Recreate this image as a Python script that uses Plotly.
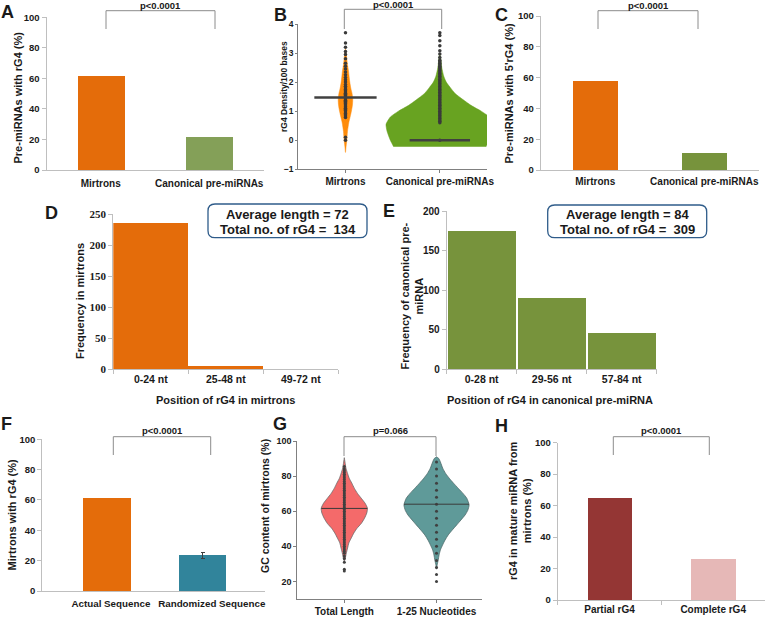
import plotly.graph_objects as go

W, H = 767, 620
FONT = "Liberation Sans, Arial, sans-serif"
SERIF = "Liberation Serif, Times New Roman, serif"
TXT = "#1a1a1a"

# ---------------- data ----------------
a_categories = ["Mirtrons", "Canonical pre-miRNAs"]
a_values = [61.1, 21.6]
a_pvalue = "p<0.0001"

b_categories = ["Mirtrons", "Canonical pre-miRNAs"]
b_medians = [1.47, 0.0]
b_mirtron_y = [-0.42, -0.2, 0.0, 0.3, 0.6, 0.8, 1.0, 1.2, 1.4, 1.6, 1.8, 2.0, 2.2, 2.4, 2.6, 2.8, 3.0, 3.15]
b_mirtron_density = [0.0, 0.012, 0.025, 0.037, 0.061, 0.086, 0.11, 0.129, 0.135, 0.123, 0.098, 0.08, 0.067, 0.055, 0.037, 0.025, 0.012, 0.0]
b_canonical_y = [-0.22, 0.0, 0.3, 0.55, 0.8, 1.0, 1.2, 1.4, 1.6, 1.8, 2.0, 2.2, 2.5, 2.8, 3.0]
b_canonical_density = [0.86, 0.92, 0.98, 1.0, 0.92, 0.77, 0.58, 0.43, 0.29, 0.2, 0.12, 0.074, 0.037, 0.018, 0.0]
b_mirtron_points = [0.0, 0.1, 0.78, 0.83, 0.88, 0.92, 0.97, 1.02, 1.06, 1.1, 1.14, 1.18, 1.22, 1.26,
                    1.3, 1.34, 1.38, 1.42, 1.46, 1.5, 1.54, 1.58, 1.62, 1.66, 1.7, 1.75, 1.8, 1.86,
                    1.92, 2.0, 2.08, 2.16, 2.25, 2.35, 2.45, 2.55, 2.65, 2.8, 2.95, 3.05, 3.2, 3.35, 3.7]
b_canonical_points = [0.0, 0.6, 0.65, 0.7, 0.75, 0.8, 0.85, 0.9, 0.95, 1.0, 1.05, 1.1, 1.15, 1.2, 1.25,
                      1.3, 1.35, 1.4, 1.45, 1.5, 1.55, 1.6, 1.65, 1.7, 1.75, 1.8, 1.85, 1.9, 1.95, 2.0,
                      2.05, 2.1, 2.15, 2.2, 2.25, 2.3, 2.35, 2.4, 2.45, 2.5, 2.55, 2.6, 2.65, 2.7, 2.75,
                      2.85, 2.97, 3.08, 3.25, 3.42, 3.6, 3.7]
b_pvalue = "p<0.0001"

c_categories = ["Mirtrons", "Canonical pre-miRNAs"]
c_values = [58.0, 11.3]
c_pvalue = "p<0.0001"

d_categories = ["0-24 nt", "25-48 nt", "49-72 nt"]
d_values = [235, 5, 0]
d_box_lines = ["Average length = 72", "Total no. of rG4 =\u00a0 134"]

e_categories = ["0-28 nt", "29-56 nt", "57-84 nt"]
e_values = [175, 90, 46]
e_box_lines = ["Average length = 84", "Total no. of rG4 =\u00a0 309"]

f_categories = ["Actual Sequence", "Randomized Sequence"]
f_values = [61.0, 23.6]
f_random_error = 2.0
f_pvalue = "p<0.0001"

g_categories = ["Total Length", "1-25 Nucleotides"]
g_medians = [61.6, 64.0]
g_total_y = [31.5, 33.3, 36, 39, 42, 44.6, 47.5, 50.3, 53, 56, 59, 61.7, 64.5, 67.4, 70, 73, 76, 78.8, 81.5, 84.5, 88, 90.5]
g_total_density = [0.0, 0.03, 0.06, 0.10, 0.14, 0.21, 0.29, 0.39, 0.52, 0.62, 0.69, 0.71, 0.64, 0.52, 0.41, 0.31, 0.23, 0.15, 0.10, 0.05, 0.02, 0.0]
g_seed_y = [27, 29.5, 32, 35.2, 38, 40.9, 43.5, 46.5, 49, 52.2, 55, 57.9, 60.5, 63.6, 67.4, 70, 73, 76, 78.8, 81.5, 84.5, 88, 90, 91]
g_seed_density = [0.0, 0.02, 0.05, 0.08, 0.12, 0.19, 0.26, 0.36, 0.47, 0.62, 0.75, 0.88, 0.96, 1.0, 0.93, 0.82, 0.67, 0.52, 0.39, 0.28, 0.19, 0.12, 0.07, 0.0]
g_total_points = [26, 27, 31, 33, 34.5, 36, 37, 38, 39, 40, 41, 42, 43, 44, 45, 46, 47, 48, 49, 50, 51,
                  52, 53, 54, 55, 56, 57, 58, 59, 60, 61, 62, 63, 64, 65, 66, 67, 68, 69, 70, 71, 72,
                  73, 74, 75, 76, 77, 78, 79, 80, 81, 82, 83, 84, 85.5]
g_seed_points = [20, 24, 28, 32, 36, 40, 44, 48, 52, 56, 60, 64, 68, 72, 76, 80, 84, 88]
g_pvalue = "p=0.066"

h_categories = ["Partial rG4", "Complete rG4"]
h_values = [65.0, 26.5]
h_pvalue = "p<0.0001"

# ---------------- styles / geometry (pixels) ----------------
ORANGE = "#E46C0A"
GREEN_A = "#84A058"
GREEN = "#77933C"
TEAL_F = "#31849B"
B_ORANGE = "#FF8C0A"
B_GREEN = "#68A321"
G_RED = "#F46A6A"
G_TEAL = "#5F9A99"
H_DARK = "#943634"
H_LIGHT = "#E6B8B7"
LIGHT_AX = "#BFBFBF"
DARK_AX = "#808080"
BRACKET = "#8C8C8C"

BOX = {  # left, right, top, bottom in px
    1: (46.5, 263.5, 17.3, 170),
    2: (298.3, 487, 24, 169.3),
    3: (540.7, 758.8, 16, 170),
    4: (113.3, 338.3, 214, 369),
    5: (446.7, 656.7, 211, 369),
    6: (42.3, 265, 439.3, 591),
    7: (297.3, 481.7, 441, 599),
    8: (557.7, 765, 442.7, 600),
}


def X(p):
    return p / W


def Y(p):
    return 1 - p / H


def sfx(n):
    return "" if n == 1 else str(n)


fig = go.Figure()


def bar(n, cats, vals, colors, width, **kw):
    fig.add_trace(go.Bar(x=cats, y=vals, marker=dict(color=colors, line=dict(width=0)), width=width,
                         xaxis="x" + sfx(n), yaxis="y" + sfx(n), hoverinfo="skip", **kw))


def violin(n, center, ys, dens, scale, fill, line_color, line_width):
    xs = [center + d * scale for d in dens] + [center - d * scale for d in reversed(dens)]
    yy = list(ys) + list(reversed(ys))
    fig.add_trace(go.Scatter(x=xs, y=yy, mode="lines", fill="toself", fillcolor=fill,
                             line=dict(color=line_color, width=line_width, shape="spline", smoothing=0.6),
                             xaxis="x" + sfx(n), yaxis="y" + sfx(n), hoverinfo="skip"))


def median_line(n, center, value, half, color, width):
    fig.add_trace(go.Scatter(x=[center - half, center + half], y=[value, value], mode="lines",
                             line=dict(color=color, width=width),
                             xaxis="x" + sfx(n), yaxis="y" + sfx(n), hoverinfo="skip"))


def points(n, center, vals, color, size):
    fig.add_trace(go.Scatter(x=[center] * len(vals), y=vals, mode="markers",
                             marker=dict(color=color, size=size, line=dict(width=0)),
                             xaxis="x" + sfx(n), yaxis="y" + sfx(n), hoverinfo="skip"))


# A
bar(1, a_categories, a_values, [ORANGE, GREEN_A], 0.43)
# B
violin(2, 1, b_canonical_y, b_canonical_density, 0.57, B_GREEN, B_GREEN, 0.5)
violin(2, 0, b_mirtron_y, b_mirtron_density, 0.57, B_ORANGE, B_ORANGE, 0.5)
points(2, 0, b_mirtron_points, "#3a3a3a", 3.5)
points(2, 1, b_canonical_points, "#3a3a3a", 3.5)
median_line(2, 0, b_medians[0], 0.33, "#404040", 2.5)
median_line(2, 1, b_medians[1], 0.32, "#404040", 2.5)
# C
bar(3, c_categories, c_values, [ORANGE, GREEN], 0.41)
# D
bar(4, d_categories, d_values, ORANGE, 0.99)
# E
bar(5, e_categories, e_values, GREEN, 0.97)
# F (bars sit slightly left of their category label, as in the original)
bar(6, f_categories[:1], f_values[:1], ORANGE, 0.472, offset=-0.274)
bar(6, f_categories[1:], f_values[1:], TEAL_F, 0.472, offset=-0.324,
    error_y=dict(type="data", array=[f_random_error], visible=True, color="#404040", thickness=1, width=2))
# G
violin(7, 0, g_total_y, g_total_density, 0.353, G_RED, "#6b6b6b", 0.8)
violin(7, 1, g_seed_y, g_seed_density, 0.353, G_TEAL, "#4f6b6b", 0.8)
points(7, 0, g_total_points, "#404040", 3)
points(7, 1, g_seed_points, "#404040", 3)
median_line(7, 0, g_medians[0], 0.25, "#3a3a3a", 1)
median_line(7, 1, g_medians[1], 0.353, "#3a3a3a", 1)
# H
bar(8, h_categories, h_values, [H_DARK, H_LIGHT], 0.43)


def xaxis(n, rng, color, size=10, ticks="", tickson=None, standoff=0, tickvals=None, ticktext=None, ticklen=4):
    b = BOX[n]
    d = dict(domain=[X(b[0]), X(b[1])], range=rng, anchor="y" + sfx(n), showgrid=False, zeroline=False,
             showline=True, linecolor=color, linewidth=1, ticks=ticks, ticklen=ticklen, tickcolor=color,
             tickwidth=1, ticklabelstandoff=standoff, automargin=False, tickangle=0,
             tickfont=dict(family=FONT, size=size, weight="bold", color=TXT), fixedrange=True)
    if tickson:
        d["tickson"] = tickson
    if tickvals is not None:
        d["tickmode"] = "array"
        d["tickvals"] = tickvals
        d["ticktext"] = ticktext
    return d


def yaxis(n, rng, dtick, color, size=9.5, family=FONT, ticklen=4, standoff=0):
    b = BOX[n]
    return dict(domain=[Y(b[3]), Y(b[2])], range=rng, anchor="x" + sfx(n), showgrid=False, zeroline=False,
                showline=True, linecolor=color, linewidth=1, ticks="outside", ticklen=ticklen, tickcolor=color,
                tickwidth=1, tick0=0, dtick=dtick, ticklabelstandoff=standoff, automargin=False,
                tickfont=dict(family=family, size=size, weight="bold", color=TXT), fixedrange=True)


layout = dict(width=W, height=H, margin=dict(l=0, r=0, t=0, b=0, pad=0, autoexpand=False),
              paper_bgcolor="white", template="none", barmode="overlay",
              plot_bgcolor="white", showlegend=False, bargap=0,
              font=dict(family=FONT, size=10, color=TXT))

layout["xaxis"] = xaxis(1, [-0.5, 1.5], LIGHT_AX, standoff=4)
layout["yaxis"] = yaxis(1, [0, 100], 20, LIGHT_AX)
layout["xaxis2"] = xaxis(2, [-0.5, 1.5], DARK_AX, ticks="outside", ticklen=3, standoff=0,
                         tickvals=[0, 1], ticktext=b_categories)
layout["yaxis2"] = yaxis(2, [-1, 4], 1, DARK_AX, size=8.5, ticklen=2, standoff=0)
layout["xaxis3"] = xaxis(3, [-0.5, 1.5], LIGHT_AX, standoff=2)
layout["yaxis3"] = yaxis(3, [0, 100], 20, LIGHT_AX)
layout["xaxis4"] = xaxis(4, [-0.5, 2.5], LIGHT_AX, size=10.5, ticks="outside", tickson="boundaries")
layout["yaxis4"] = yaxis(4, [0, 250], 50, LIGHT_AX, size=11, family=SERIF)
layout["xaxis5"] = xaxis(5, [-0.5, 2.5], LIGHT_AX, size=10.5, ticks="outside", tickson="boundaries")
layout["yaxis5"] = yaxis(5, [0, 200], 50, LIGHT_AX, size=10)
layout["xaxis6"] = xaxis(6, [-0.68, 1.528], LIGHT_AX, size=9.8, standoff=3)
layout["yaxis6"] = yaxis(6, [0, 100], 20, LIGHT_AX)
layout["xaxis7"] = xaxis(7, [-0.51, 1.49], DARK_AX, ticks="outside", ticklen=3, standoff=0,
                         tickvals=[0, 1], ticktext=g_categories)
layout["yaxis7"] = yaxis(7, [10, 100], 20, DARK_AX, size=9, ticklen=3)
layout["xaxis8"] = xaxis(8, [-0.5, 1.5], LIGHT_AX, ticks="outside", tickson="boundaries")
layout["yaxis8"] = yaxis(8, [0, 100], 20, LIGHT_AX)

annotations = []
shapes = []


def text(x, y, t, size, angle=0, family=FONT, bold=True, color=TXT, xanchor="center"):
    annotations.append(dict(x=X(x), y=Y(y), xref="paper", yref="paper", text=t, showarrow=False,
                            textangle=angle, xanchor=xanchor, yanchor="middle",
                            font=dict(family=family, size=size, color=color,
                                      weight="bold" if bold else "normal")))


def bracket(x1, x2, ytop, yb1, yb2, label, ylabel):
    path = "M {},{} L {},{} L {},{} L {},{}".format(X(x1), Y(yb1), X(x1), Y(ytop), X(x2), Y(ytop), X(x2), Y(yb2))
    shapes.append(dict(type="path", path=path, xref="paper", yref="paper", line=dict(color=BRACKET, width=1)))
    text((x1 + x2) / 2, ylabel, label, 9.5)


def rounded_box(x0, x1, y0, y1, r, color):
    pts = [("M", x0 + r, y0), ("L", x1 - r, y0), ("Q", x1, y0, x1, y0 + r), ("L", x1, y1 - r),
           ("Q", x1, y1, x1 - r, y1), ("L", x0 + r, y1), ("Q", x0, y1, x0, y1 - r), ("L", x0, y0 + r),
           ("Q", x0, y0, x0 + r, y0)]
    parts = []
    for p in pts:
        cmd = p[0]
        coords = p[1:]
        s = " ".join("{},{}".format(X(coords[i]), Y(coords[i + 1])) for i in range(0, len(coords), 2))
        parts.append(cmd + " " + s)
    shapes.append(dict(type="path", path=" ".join(parts) + " Z", xref="paper", yref="paper",
                       line=dict(color=color, width=1.3), fillcolor="white"))


# panel letters
for letter, (lx, ly) in {"A": (7.5, 12), "B": (280.5, 15), "C": (501.5, 15), "D": (51, 212.5),
                         "E": (389, 211), "F": (6.5, 424), "G": (280, 423.5), "H": (501.5, 426)}.items():
    text(lx, ly, letter, 18)

# y axis titles
text(18, 97.5, "Pre-miRNAs with rG4 (%)", 11, angle=-90)
text(284, 87, "rG4 Density/100 bases", 8.5, angle=-90)
text(508.5, 94, "Pre-miRNAs with 5'rG4 (%)", 11, angle=-90)
text(80, 301, "Frequency in mirtrons", 11, angle=-90)
text(411.5, 296, "Frequency of canonical pre-<br>miRNA", 11, angle=-90)
text(11, 514.5, "Mirtrons with rG4 (%)", 11, angle=-90)
text(265, 506, "GC content of mirtrons (%)", 10.5, angle=-90)
text(520, 511, "rG4 in mature miRNA from<br>mirtrons (%)", 11, angle=-90)

# x axis titles
text(226, 400, "Position of rG4 in mirtrons", 11)
text(550, 399.5, "Position of rG4 in canonical pre-miRNA", 11)

# significance brackets
bracket(106, 215, 10.7, 29, 29, a_pvalue, 5.5)
bracket(344.3, 441.7, 9.3, 29, 29, b_pvalue, 4.5)
bracket(598, 698, 10.7, 29, 29, c_pvalue, 5.5)
bracket(113.3, 210.7, 436.7, 455, 455, f_pvalue, 430)
bracket(344, 436, 436.7, 456, 456, g_pvalue, 430)
bracket(613.3, 709.3, 436.7, 455, 455, h_pvalue, 430)

# info boxes
rounded_box(208, 367, 204, 237.7, 7, "#2F5C8A")
text(287.5, 214.5, d_box_lines[0], 13)
text(287.5, 229.5, d_box_lines[1], 13)
rounded_box(547.7, 706.7, 205, 237.7, 7, "#2F5C8A")
text(627, 214.5, e_box_lines[0], 13)
text(627, 229.5, e_box_lines[1], 13)

layout["annotations"] = annotations
layout["shapes"] = shapes
fig.update_layout(**layout)
fig.write_html("out.html")
